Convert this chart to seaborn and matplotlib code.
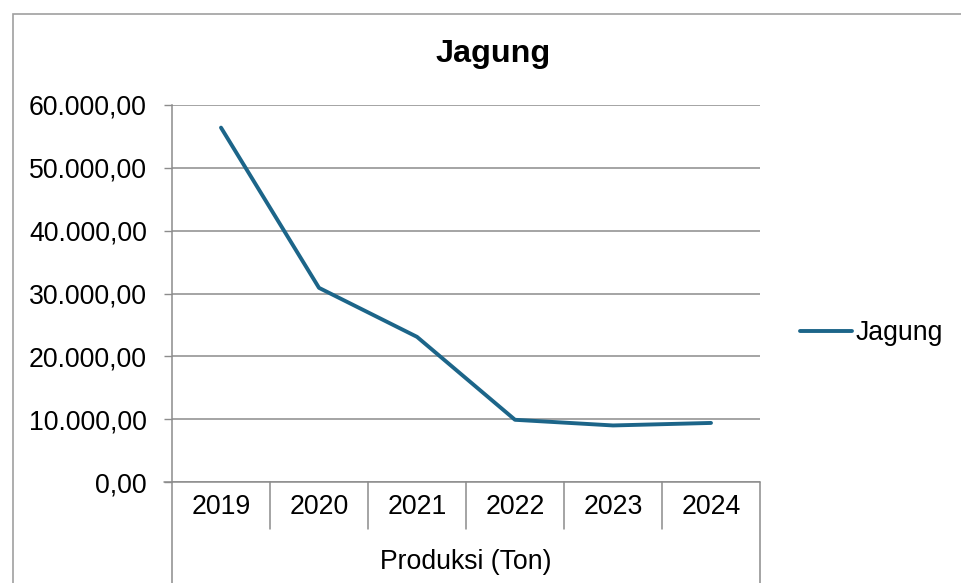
import matplotlib
matplotlib.use("Agg")
import matplotlib.pyplot as plt
import matplotlib.transforms as mtransforms
from matplotlib.patches import Rectangle
import seaborn as sns
import pandas as pd

# ---- data ----
years = ["2019", "2020", "2021", "2022", "2023", "2024"]
produksi = [56400, 30900, 23100, 9900, 9000, 9400]
series_name = "Jagung"
title = "Jagung"
group_label = "Produksi (Ton)"
yticks = [0, 10000, 20000, 30000, 40000, 50000, 60000]

def fmt(v):
    s = f"{v:,.2f}"
    return s.replace(",", "X").replace(".", ",").replace("X", ".")

ytick_labels = [fmt(v) for v in yticks]

df = pd.DataFrame({"Tahun": years, "Produksi": produksi})

sns.set_theme(style="white")
plt.rcParams["font.family"] = ["Liberation Sans", "DejaVu Sans"]
plt.rcParams["text.color"] = "black"

W, H = 961, 583
fig = plt.figure(figsize=(W / 100, H / 100), dpi=100)
fig.patch.set_facecolor("white")

left, right, top, bottom = 172, 760, 105, 482
ax = fig.add_axes([left / W, 1 - bottom / H, (right - left) / W, (bottom - top) / H])

line_color = "#1c6589"
grid_color = "#8c8c8c"
FS = 19.2

sns.lineplot(data=df, x="Tahun", y="Produksi", ax=ax, color=line_color,
             linewidth=2.8, label=series_name, sort=False)

ax.set_xlim(-0.5, len(years) - 0.5)
ax.set_ylim(yticks[0], yticks[-1])
ax.set_yticks(yticks)
ax.set_yticklabels(ytick_labels)
ax.set_xticks([])
ax.set_xlabel("")
ax.set_ylabel("")

ax.yaxis.grid(True, color=grid_color, linewidth=1.1)
ax.set_axisbelow(True)
ax.tick_params(axis="y", left=True, length=6, width=1, color=grid_color,
               labelsize=FS, pad=12, labelcolor="black")

for sp in ["top", "right"]:
    ax.spines[sp].set_visible(False)
ax.spines["bottom"].set_visible(False)
ax.spines["left"].set_color(grid_color)
ax.spines["left"].set_linewidth(1.1)

# axis line at bottom extending to the left like the tick
trans = mtransforms.blended_transform_factory(ax.transData, ax.transAxes)
ax.plot([-0.5 - 8 / 98, len(years) - 0.5], [0, 0], transform=trans,
        color=grid_color, lw=1.1, clip_on=False, zorder=1)

ph = bottom - top
def ay(px):
    return (bottom - px) / ph

# category separators
for i in range(1, len(years)):
    ax.plot([i - 0.5, i - 0.5], [0, ay(529)], transform=trans,
            color=grid_color, lw=1.1, clip_on=False)
for xb in [-0.5, len(years) - 0.5]:
    ax.plot([xb, xb], [0, ay(590)], transform=trans,
            color=grid_color, lw=1.1, clip_on=False)

# year labels
for i, yr in enumerate(years):
    ax.text(i, ay(514), yr, transform=trans, ha="center", va="baseline",
            fontsize=FS, color="black")
ax.text((len(years) - 1) / 2, ay(569), group_label, transform=trans,
        ha="center", va="baseline", fontsize=FS, color="black")

# title
fig.text(493 / W, 1 - 62.3 / H, title, ha="center", va="baseline",
         fontsize=23.3, fontweight="bold", color="black")

# legend
leg = ax.legend(loc="center left", bbox_to_anchor=(800 / W, 1 - 333 / H),
                bbox_transform=fig.transFigure, frameon=False,
                fontsize=FS, handlelength=1.95, handletextpad=0.15,
                borderpad=0, borderaxespad=0)
for t in leg.get_texts():
    t.set_color("black")

# chart area border
fig.patches.append(Rectangle((12.5 / W, -0.1), 1.2, (H - 14.5) / H + 0.1,
                             transform=fig.transFigure, fill=False,
                             edgecolor="#a0a0a0", lw=1.2))

fig.savefig("out.png", dpi=100, facecolor="white")
